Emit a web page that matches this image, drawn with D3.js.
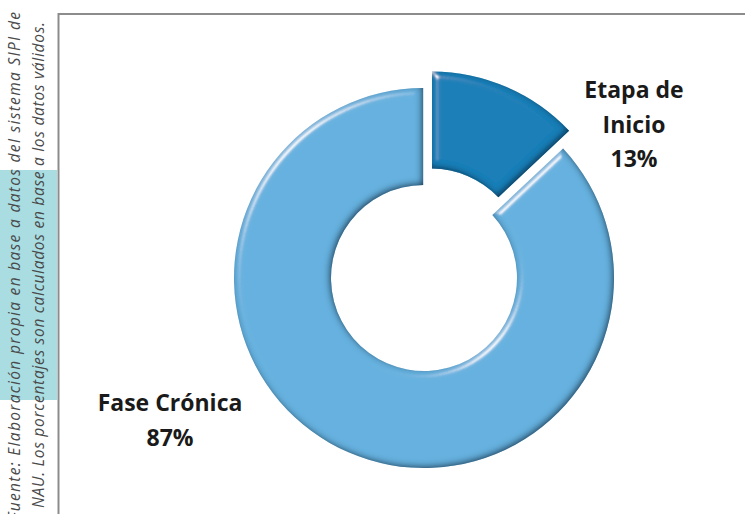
<!DOCTYPE html>
<html>
<head>
<meta charset="utf-8">
<script src="https://cdn.jsdelivr.net/npm/d3@7"></script>
<style>
  body { margin: 0; background: #fff; }
  svg { display: block; }
</style>
</head>
<body>
<div id="chart"></div>
<script>
var categories = ["Etapa de Inicio", "Fase Crónica"];
var values = [13, 87];
var labelLines = [["Etapa de", "Inicio", "13%"], ["Fase Crónica", "87%"]];
var sourceLines = [
  "Fuente: Elaboración propia en base a datos del sistema SIPI de",
  "NAU. Los porcentajes son calculados en base a los datos válidos."
];
var colors = ["#1a7fb8", "#66b1df"];

var width = 745, height = 514;

var svg = d3.select("#chart")
  .append("svg")
  .attr("width", width)
  .attr("height", height);

var defs = svg.append("defs");

// bevel look: specular highlight + inner shadow
var f = defs.append("filter").attr("id", "bevel")
  .attr("x", "-10%").attr("y", "-10%").attr("width", "120%").attr("height", "120%");
f.append("feGaussianBlur").attr("in", "SourceAlpha").attr("stdDeviation", 3.5).attr("result", "blur");
var spec = f.append("feSpecularLighting").attr("in", "blur")
  .attr("surfaceScale", 5).attr("specularConstant", 0.8).attr("specularExponent", 35)
  .attr("lighting-color", "#ffffff").attr("result", "spec");
spec.append("feDistantLight").attr("azimuth", 225).attr("elevation", 30);
f.append("feComposite").attr("in", "spec").attr("in2", "SourceAlpha").attr("operator", "in").attr("result", "specIn");
var ct = f.append("feComponentTransfer").attr("in", "SourceAlpha").attr("result", "inv");
ct.append("feFuncA").attr("type", "table").attr("tableValues", "1 0");
f.append("feGaussianBlur").attr("in", "inv").attr("stdDeviation", 3).attr("result", "invBlur");
f.append("feOffset").attr("in", "invBlur").attr("dx", -2.5).attr("dy", -2.5).attr("result", "invOff");
f.append("feFlood").attr("flood-color", "#0c2740").attr("flood-opacity", 0.95).attr("result", "dark");
f.append("feComposite").attr("in", "dark").attr("in2", "invOff").attr("operator", "in").attr("result", "sh");
f.append("feComposite").attr("in", "sh").attr("in2", "SourceAlpha").attr("operator", "in").attr("result", "innerShadow");
var m = f.append("feMerge");
m.append("feMergeNode").attr("in", "SourceGraphic");
m.append("feMergeNode").attr("in", "innerShadow");
m.append("feMergeNode").attr("in", "specIn");

// left note band + text
svg.append("rect")
  .attr("x", 0).attr("y", 170)
  .attr("width", 57).attr("height", 230)
  .attr("fill", "#a9dde2");

var note = svg.append("g");
note.selectAll("text")
  .data(sourceLines)
  .enter()
  .append("text")
  .attr("transform", function(d, i) {
    return "translate(" + (i == 0 ? 20 : 44) + "," + (i == 0 ? 520 : 508) + ") rotate(-90)";
  })
  .attr("textLength", function(d, i) { return i == 0 ? 508 : 486; })
  .attr("lengthAdjust", "spacing")
  .attr("font-family", "'Open Sans', Lato, sans-serif")
  .attr("font-style", "italic")
  .attr("font-size", 15.5)
  .attr("fill", "#4a4a4a")
  .text(function(d) { return d; });

// frame
svg.append("path")
  .attr("d", "M58.5,514 V14 H745")
  .attr("fill", "none")
  .attr("stroke", "#8c8c8c")
  .attr("stroke-width", 2);

// donut
var cx = 424, cy = 278, outerR = 190, innerR = 93, explode = 18;

var pie = d3.pie().sort(null).value(function(d) { return d; });
var arc = d3.arc().innerRadius(innerR).outerRadius(outerR).padAngle(0.008);
var arcs = pie(values);

var g = svg.append("g").attr("transform", "translate(" + cx + "," + cy + ")");

g.selectAll("path")
  .data(arcs)
  .enter()
  .append("path")
  .attr("d", arc)
  .attr("fill", function(d, i) { return colors[i]; })
  .attr("filter", "url(#bevel)")
  .attr("transform", function(d, i) {
    if (i != 0) return null;
    var a = (d.startAngle + d.endAngle) / 2;
    return "translate(" + (Math.sin(a) * explode) + "," + (-Math.cos(a) * explode) + ")";
  });

// labels
var labelPos = [[634, 98], [170, 411]];
labelLines.forEach(function(lines, i) {
  var t = svg.append("text")
    .attr("x", labelPos[i][0])
    .attr("y", labelPos[i][1])
    .attr("text-anchor", "middle")
    .attr("font-family", "'Open Sans', Lato, sans-serif")
    .attr("font-weight", "bold")
    .attr("font-size", 23)
    .attr("fill", "#1a1a1a");
  t.selectAll("tspan")
    .data(lines)
    .enter()
    .append("tspan")
    .attr("x", labelPos[i][0])
    .attr("dy", function(d, j) { return j == 0 ? 0 : 34.5; })
    .text(function(d) { return d; });
});
</script>
</body>
</html>
